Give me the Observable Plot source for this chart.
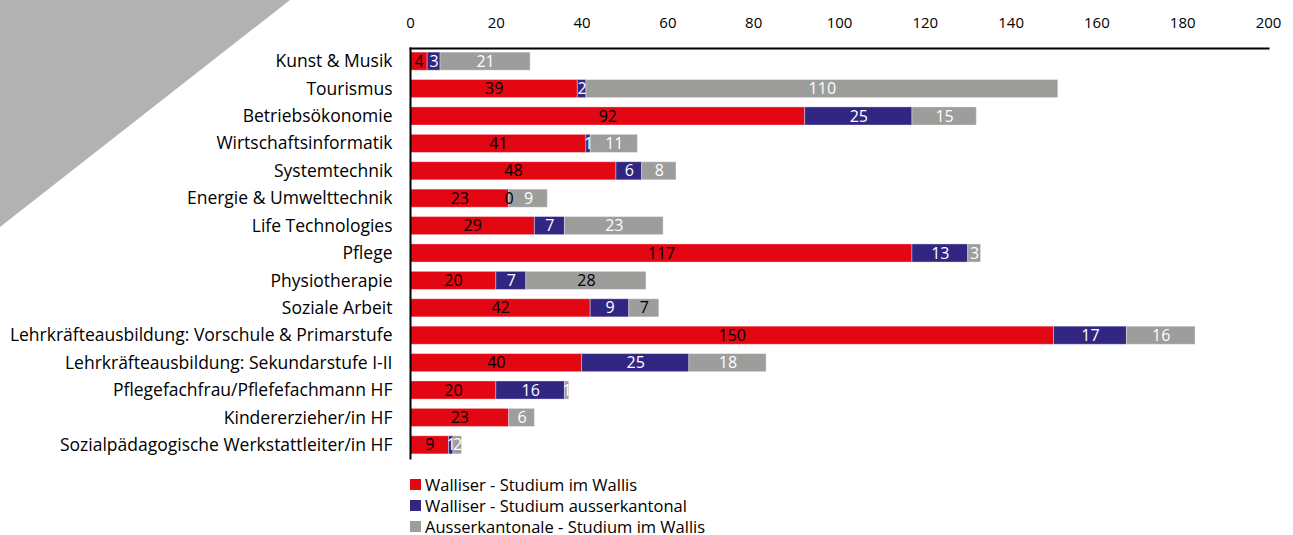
<!DOCTYPE html>
<html><head><meta charset="utf-8">
<script src="https://cdn.jsdelivr.net/npm/d3@7"></script>
<script src="https://cdn.jsdelivr.net/npm/@observablehq/plot@0.6"></script>
<style>
body{margin:0;background:#fff;font-family:"Open Sans",sans-serif;}
#wrap{position:relative;width:1293px;height:535px}
#tri{position:absolute;left:0;top:0;width:290px;height:227px;background:#b2b2b2;clip-path:polygon(0 0,100% 0,0 100%)}
#chart{position:absolute;left:0;top:0}
#chart svg{background:transparent}
#legend{position:absolute;left:410px;top:474px;font-size:16.5px;line-height:21px;color:#000}
#legend .it{display:flex;align-items:center;height:21px;white-space:nowrap}
#legend .sw{width:11px;height:11px;margin-right:4px}
</style></head>
<body><div id="wrap"><div id="tri"></div><div id="chart"></div><div id="legend"></div></div>
<script>
const categories = ["Kunst & Musik","Tourismus","Betriebsökonomie","Wirtschaftsinformatik","Systemtechnik","Energie & Umwelttechnik","Life Technologies","Pflege","Physiotherapie","Soziale Arbeit","Lehrkräfteausbildung: Vorschule & Primarstufe","Lehrkräfteausbildung: Sekundarstufe I-II","Pflegefachfrau/Pflefefachmann HF","Kindererzieher/in HF","Sozialpädagogische Werkstattleiter/in HF"];
const seriesNames = ["Walliser - Studium im Wallis","Walliser - Studium ausserkantonal","Ausserkantonale - Studium im Wallis"];
const wallisImWallis = [4,39,92,41,48,23,29,117,20,42,150,40,20,23,9];
const wallisAusserkantonal = [3,2,25,1,6,0,7,13,7,9,17,25,16,null,1];
const ausserkantonalImWallis = [21,110,15,11,8,9,23,3,28,7,16,18,1,6,2];
const xTicks = [0,20,40,60,80,100,120,140,160,180,200];
const colors = ["#e30613","#312783","#9d9d9c"];
const darkGrayLabels = new Set(["Physiotherapie","Soziale Arbeit"]);

const seriesValues = [wallisImWallis, wallisAusserkantonal, ausserkantonalImWallis];
const rows = [];
categories.forEach((c, i) => {
  seriesValues.forEach((vals, s) => {
    if (vals[i] != null) rows.push({cat: c, series: seriesNames[s], s, value: vals[i]});
  });
});
function labelColor(d) {
  if (d.s === 0 || d.value === 0) return "#000";
  if (d.s === 2 && darkGrayLabels.has(d.cat)) return "#000";
  return "#fff";
}
const font = '"Open Sans", sans-serif';
const chart = Plot.plot({
  width: 1293, height: 460,
  marginLeft: 410, marginRight: 25, marginTop: 48, marginBottom: 2,
  style: {fontSize: "15px", fontFamily: font, color: "#000", background: "transparent"},
  x: {domain: [0, 200], label: null},
  y: {domain: categories, paddingInner: 0.34, paddingOuter: 0.15, round: false, label: null},
  color: {domain: seriesNames, range: colors},
  marks: [
    Plot.barX(rows, Plot.stackX({x: "value", y: "cat", z: "series", fill: "series", stroke: "#fff", strokeOpacity: 0.35, strokeWidth: 1})),
    Plot.text(rows, Plot.stackX({x: "value", y: "cat", z: "series", text: d => String(d.value), fill: labelColor, fontSize: 16})),
    Plot.frame({anchor: "top", stroke: "#000", strokeWidth: 2}),
    Plot.frame({anchor: "left", stroke: "#000", strokeWidth: 2}),
    Plot.axisX({anchor: "top", ticks: xTicks, tickSize: 0, tickPadding: 21, fontSize: 15, label: null}),
    Plot.axisY({anchor: "left", tickSize: 0, tickPadding: 18, fontSize: 17.5, label: null})
  ]
});
document.getElementById("chart").appendChild(chart);
const legend = document.getElementById("legend");
seriesNames.forEach((n, i) => {
  const it = document.createElement("div"); it.className = "it";
  const sw = document.createElement("span"); sw.className = "sw"; sw.style.background = colors[i];
  const tx = document.createElement("span"); tx.textContent = n;
  it.appendChild(sw); it.appendChild(tx); legend.appendChild(it);
});
</script></body></html>
